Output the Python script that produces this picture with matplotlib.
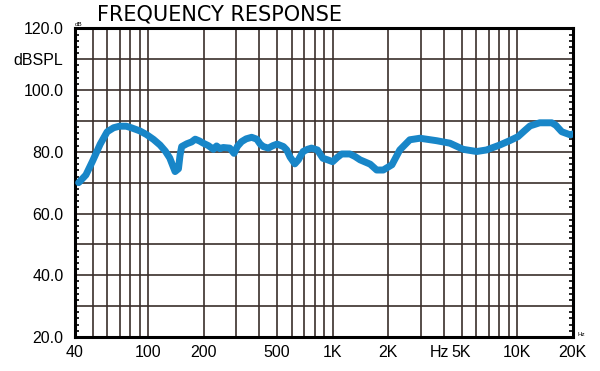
import matplotlib.pyplot as plt
from matplotlib.ticker import FixedLocator, NullFormatter, MultipleLocator

# frequency response (Hz, dB SPL)
freq = [42, 46, 50, 55, 60, 65, 70, 76, 81, 90, 98, 107, 116, 124, 131, 136,
        140, 146, 149, 152, 162, 172, 180, 190, 199, 212, 226, 235, 245, 255,
        277, 292, 305, 321, 340, 364, 388, 405, 421, 448, 475, 500, 541, 564,
        588, 624, 652, 692, 730, 768, 827, 886, 940, 1000, 1060, 1120, 1240,
        1320, 1408, 1597, 1732, 1880, 2096, 2312, 2620, 2970, 3660, 4320,
        5100, 6030, 6820, 8050, 9100, 10100, 11000, 11750, 13250, 15400,
        16200, 17450, 19400, 20000]
spl = [70.0, 72.5, 77.0, 82.5, 86.5, 87.8, 88.3, 88.3, 87.8, 86.8, 85.6, 84.0,
       82.2, 80.2, 78.0, 75.5, 73.6, 74.5, 79.0, 81.7, 82.6, 83.2, 84.1, 83.5,
       82.8, 82.0, 80.8, 81.9, 81.0, 81.4, 81.2, 79.5, 81.8, 83.3, 84.2, 84.7,
       84.1, 82.5, 81.7, 81.2, 82.0, 82.5, 81.7, 80.6, 78.3, 76.1, 77.4, 80.1,
       80.8, 81.2, 80.6, 77.9, 77.4, 76.8, 78.2, 79.3, 79.3, 78.5, 77.4, 76.0,
       74.1, 74.1, 75.8, 80.6, 83.9, 84.4, 83.6, 82.8, 80.8, 80.1, 80.6, 82.2,
       83.6, 84.9, 86.9, 88.4, 89.4, 89.4, 88.6, 86.5, 85.5, 85.8]

x_ticks = [40, 100, 200, 500, 1000, 2000, 5000, 10000, 20000]
x_labels = ['40', '100', '200', '500', '1K', '2K', '5K', '10K', '20K']
x_grid = [50, 60, 70, 80, 90, 300, 400, 600, 700, 800, 900,
          3000, 4000, 6000, 7000, 8000, 9000]
y_ticks = [20, 30, 40, 50, 60, 70, 80, 90, 100, 110, 120]
y_labels = ['20.0', '', '40.0', '', '60.0', '', '80.0', '', '100.0', 'dBSPL', '120.0']

plt.rcParams['font.family'] = ['Liberation Sans', 'DejaVu Sans']

fig = plt.figure(figsize=(6, 3.71), dpi=100)
ax = fig.add_axes([0.1245, 0.0916, 0.83, 0.832])

ax.plot(freq, spl, color='#1886c8', lw=5, solid_capstyle='round',
        solid_joinstyle='round', zorder=3)

ax.set_xscale('log')
ax.set_xlim(40, 20000)
ax.set_ylim(20, 120)

ax.xaxis.set_major_locator(FixedLocator(x_ticks))
ax.set_xticklabels(x_labels)
ax.xaxis.set_minor_locator(FixedLocator(x_grid))
ax.xaxis.set_minor_formatter(NullFormatter())
ax.set_yticks(y_ticks)
ax.set_yticklabels(y_labels)
ax.yaxis.set_minor_locator(MultipleLocator(2))

grid_kw = dict(color='#3a2f2b', lw=1.2)
ax.xaxis.grid(True, which='major', **grid_kw)
ax.xaxis.grid(True, which='minor', **grid_kw)
ax.yaxis.grid(True, which='major', **grid_kw)

ax.tick_params(axis='x', which='both', length=0, labelsize=11.5, pad=6)
ax.tick_params(axis='y', which='major', length=0, labelsize=11.5, pad=8)
ax.tick_params(axis='y', which='minor', direction='in', length=3, width=1.2,
               left=True, right=True)
for s in ax.spines.values():
    s.set_linewidth(2.2)
    s.set_color('black')

# "Hz" sits on the tick-label row, just left of 5K
ax.annotate('Hz', xy=(3800, 0), xycoords=('data', 'axes fraction'),
            xytext=(0, -5.6), textcoords='offset points',
            fontsize=11.5, ha='center', va='top')
ax.text(0.0, 1.005, 'dB', transform=ax.transAxes, fontsize=4.5,
        ha='left', va='bottom')
ax.text(1.01, 0.0, 'Hz', transform=ax.transAxes, fontsize=4.5,
        ha='left', va='bottom')

fig.text(0.162, 0.988, 'FREQUENCY RESPONSE', fontsize=15, ha='left',
         va='top', family='DejaVu Sans')

fig.savefig('out.png', dpi=100)
